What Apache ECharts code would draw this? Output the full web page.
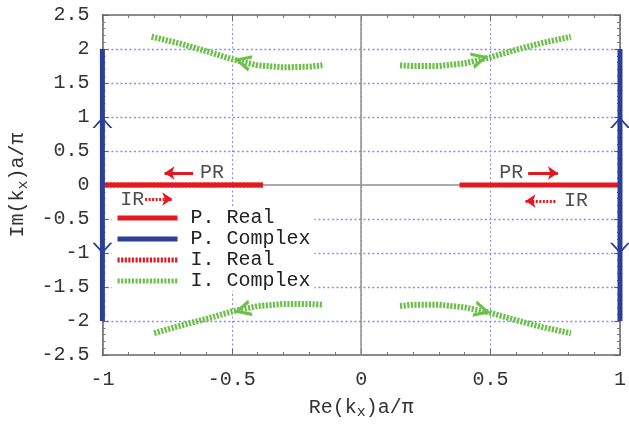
<!DOCTYPE html>
<html><head><meta charset="utf-8">
<script src="https://cdn.jsdelivr.net/npm/echarts@6/dist/echarts.min.js"></script>
<style>html,body{margin:0;padding:0;background:#fff}#c{width:629px;height:429px}</style>
</head><body><div id="c"></div>
<script>
// ---- data ----
const pRealLeftX = [-1, -0.38];
const pRealLeftY = [0, 0];
const pRealRightX = [0.38, 1];
const pRealRightY = [0, 0];
const pCplxLeftX = [-1, -1];
const pCplxLeftY = [-2, 2];
const pCplxRightX = [1, 1];
const pCplxRightY = [-2, 2];
const iRealX = [-1, -0.38];
const iRealY = [0, 0];
const icUL_X = [-0.81, -0.7, -0.6, -0.5, -0.4, -0.3, -0.2, -0.15];
const icUL_Y = [2.18, 2.08, 1.97, 1.85, 1.76, 1.73, 1.74, 1.76];
const icUR_X = [0.15, 0.2, 0.3, 0.4, 0.5, 0.6, 0.7, 0.81];
const icUR_Y = [1.76, 1.75, 1.75, 1.79, 1.88, 1.99, 2.09, 2.18];
const icLL_X = [-0.8, -0.7, -0.6, -0.5, -0.4, -0.3, -0.2, -0.15];
const icLL_Y = [-2.18, -2.07, -1.97, -1.86, -1.78, -1.75, -1.75, -1.76];
const icLR_X = [0.15, 0.2, 0.3, 0.4, 0.5, 0.6, 0.7, 0.81];
const icLR_Y = [-1.78, -1.76, -1.76, -1.8, -1.88, -1.99, -2.09, -2.18];
// arrow heads on curves: [x, y, rotation deg]
const greenArrows = [[-0.46, 1.82, 165], [0.46, 1.86, 15], [-0.46, -1.84, 195], [0.47, -1.85, -15]];
const blueArrows = [[-1, 0.92, 90], [1, 0.92, 90], [-1, -0.93, -90], [1, -0.93, -90]];
// annotations
const annoTexts = [["PR", -0.577, 0.18], ["IR", -0.885, -0.21], ["PR", 0.58, 0.18], ["IR", 0.83, -0.235]];
const solidArrows = [[[-0.65, 0.176], [-0.76, 0.176]], [[0.645, 0.176], [0.76, 0.176]]];
const dottedArrows = [[[-0.835, -0.206], [-0.73, -0.206]], [[0.75, -0.235], [0.635, -0.235]]];
const legendNames = ["P. Real", "P. Complex", "I. Real", "I. Complex"];
// grid line positions (y ticks)
const yGridValues = [-2, -1.5, -1, -0.5, 0.5, 1, 1.5, 2];

const zip = (xs, ys) => xs.map((x, i) => [x, ys[i]]);
const RED = '#e3191f', BLUE = '#2b3f98', GREEN = '#6cc04a';
const FONT = 'Liberation Mono';
const hatch = [2.2, 1.4];
const chevron = 'path://M0,0 L10,5 L0,10 L0,7.8 L6.2,5 L0,2.2 Z';
const chevronThin = 'path://M0,0 L10,5 L0,10 L0,8.8 L7.6,5 L0,1.2 Z';

function lineSeries(name, data, color, width, type, z) {
  return {type: 'line', name, data, symbol: 'none', showSymbol: false, clip: false, z: z,
    lineStyle: {color, width, type}, itemStyle: {color}, animation: false};
}

const chart = echarts.init(document.getElementById('c'), null, {renderer: 'canvas'});
const GRIDC = '#8a8af2';
const gridLine = {show: true, lineStyle: {color: GRIDC, width: 1, type: [2, 2.5]}};
const axisLineS = {show: true, onZero: false, lineStyle: {color: '#666', width: 1.5}};
const tickS = {show: true, inside: true, length: 6, lineStyle: {color: '#666'}};
const minorS = {show: true, splitNumber: 5, length: 3, lineStyle: {color: '#777'}};
const nameRich = {rich: {n: {fontFamily: FONT, fontSize: 20, color: '#333'},
                         s: {fontFamily: FONT, fontSize: 15, color: '#333', padding: [10, 0, 0, 0]}}};

const series = [
  {type: 'line', name: 'ygrid', data: [], z: 0, animation: false,
    markLine: {silent: true, symbol: 'none', animation: false, z: 0, label: {show: false},
      lineStyle: {color: GRIDC, width: 1.4, type: [2, 2.5]},
      data: yGridValues.map(v => ({yAxis: v}))}},
  {type: 'line', name: 'zero', data: [], z: 1, animation: false,
    markLine: {silent: true, symbol: 'none', animation: false, z: 1, label: {show: false},
      lineStyle: {color: '#8f8f8f', width: 1.5, type: 'solid'},
      data: [{xAxis: 0}, {yAxis: 0}]}},
  lineSeries('I. Real', zip(iRealX, iRealY), RED, 5, hatch, 2),
  lineSeries('P. Real', zip(pRealLeftX, pRealLeftY), RED, 5, 'solid', 3),
  lineSeries('P. Real', zip(pRealRightX, pRealRightY), RED, 5, 'solid', 3),
  lineSeries('P. Complex', zip(pCplxLeftX, pCplxLeftY), BLUE, 5, 'solid', 4),
  lineSeries('P. Complex', zip(pCplxRightX, pCplxRightY), BLUE, 5, 'solid', 4),
  lineSeries('I. Complex', zip(icUL_X, icUL_Y), GREEN, 6, hatch, 3),
  lineSeries('I. Complex', zip(icUR_X, icUR_Y), GREEN, 6, hatch, 3),
  lineSeries('I. Complex', zip(icLL_X, icLL_Y), GREEN, 6, hatch, 3),
  lineSeries('I. Complex', zip(icLR_X, icLR_Y), GREEN, 6, hatch, 3),
  {type: 'scatter', name: 'gArrows', z: 5, animation: false, symbol: chevron, symbolSize: [17, 17],
    itemStyle: {color: GREEN, opacity: 1},
    data: greenArrows.map(a => ({value: [a[0], a[1]], symbolRotate: a[2]}))},
  {type: 'scatter', name: 'bArrows', z: 5, animation: false, symbol: chevronThin, symbolSize: [11, 20],
    itemStyle: {color: BLUE, opacity: 1}, clip: false,
    data: blueArrows.map(a => ({value: [a[0], a[1]], symbolRotate: a[2]}))},
  {type: 'lines', coordinateSystem: 'cartesian2d', z: 5, animation: false, symbol: ['none', 'arrow'], symbolSize: 10,
    lineStyle: {color: RED, width: 3, type: 'solid', opacity: 1},
    data: solidArrows.map(c => ({coords: c}))},
  {type: 'lines', coordinateSystem: 'cartesian2d', z: 5, animation: false, symbol: ['none', 'arrow'], symbolSize: 10,
    lineStyle: {color: RED, width: 3, type: [2, 1.5], opacity: 1},
    data: dottedArrows.map(c => ({coords: c}))},
  {type: 'scatter', name: 'texts', z: 6, animation: false, symbolSize: 1, itemStyle: {color: 'rgba(0,0,0,0)'},
    label: {show: true, position: 'inside', formatter: p => p.data.name, color: '#222', fontFamily: FONT, fontSize: 20},
    data: annoTexts.map(t => ({name: t[0], value: [t[1], t[2]]}))}
];

chart.setOption({
  animation: false,
  backgroundColor: '#fff',
  grid: {left: 100, right: 9, top: 15, bottom: 74, show: false},
  legend: {
    data: legendNames, orient: 'vertical', left: 112, top: 208, itemWidth: 60, itemHeight: 12, itemGap: 1,
    backgroundColor: '#fff', padding: [0, 4, 0, 3], selectedMode: false, z: 3,
    itemStyle: {opacity: 0, borderWidth: 0},
    lineStyle: {width: 5},
    textStyle: {fontFamily: FONT, fontSize: 20, color: '#222', lineHeight: 20, padding: [0, 0, 0, 8]}
  },
  xAxis: [
    {type: 'value', min: -1, max: 1, interval: 0.5, position: 'bottom',
      axisLine: axisLineS, axisTick: tickS, minorTick: minorS,
      axisLabel: {color: '#333', fontFamily: FONT, fontSize: 20, margin: 15},
      splitLine: gridLine,
      name: '{n|Re(k}{s|x}{n|)a/π}', nameLocation: 'middle', nameGap: 40, nameTextStyle: nameRich},
    {type: 'value', min: -1, max: 1, interval: 0.5, position: 'top',
      axisLine: axisLineS, axisTick: tickS, minorTick: minorS,
      axisLabel: {show: false}, splitLine: {show: false}}
  ],
  yAxis: [
    {type: 'value', min: -2.5, max: 2.5, interval: 0.5, position: 'left',
      axisLine: axisLineS, axisTick: tickS, minorTick: minorS,
      axisLabel: {color: '#333', fontFamily: FONT, fontSize: 20, margin: 13},
      splitLine: {show: false},
      name: '{n|Im(k}{s|x}{n|)a/π}', nameLocation: 'middle', nameGap: 66, nameRotate: 90, nameTextStyle: nameRich},
    {type: 'value', min: -2.5, max: 2.5, interval: 0.5, position: 'right',
      axisLine: axisLineS, axisTick: tickS, minorTick: minorS,
      axisLabel: {show: false}, splitLine: {show: false}}
  ],
  series: series
});
</script></body></html>
